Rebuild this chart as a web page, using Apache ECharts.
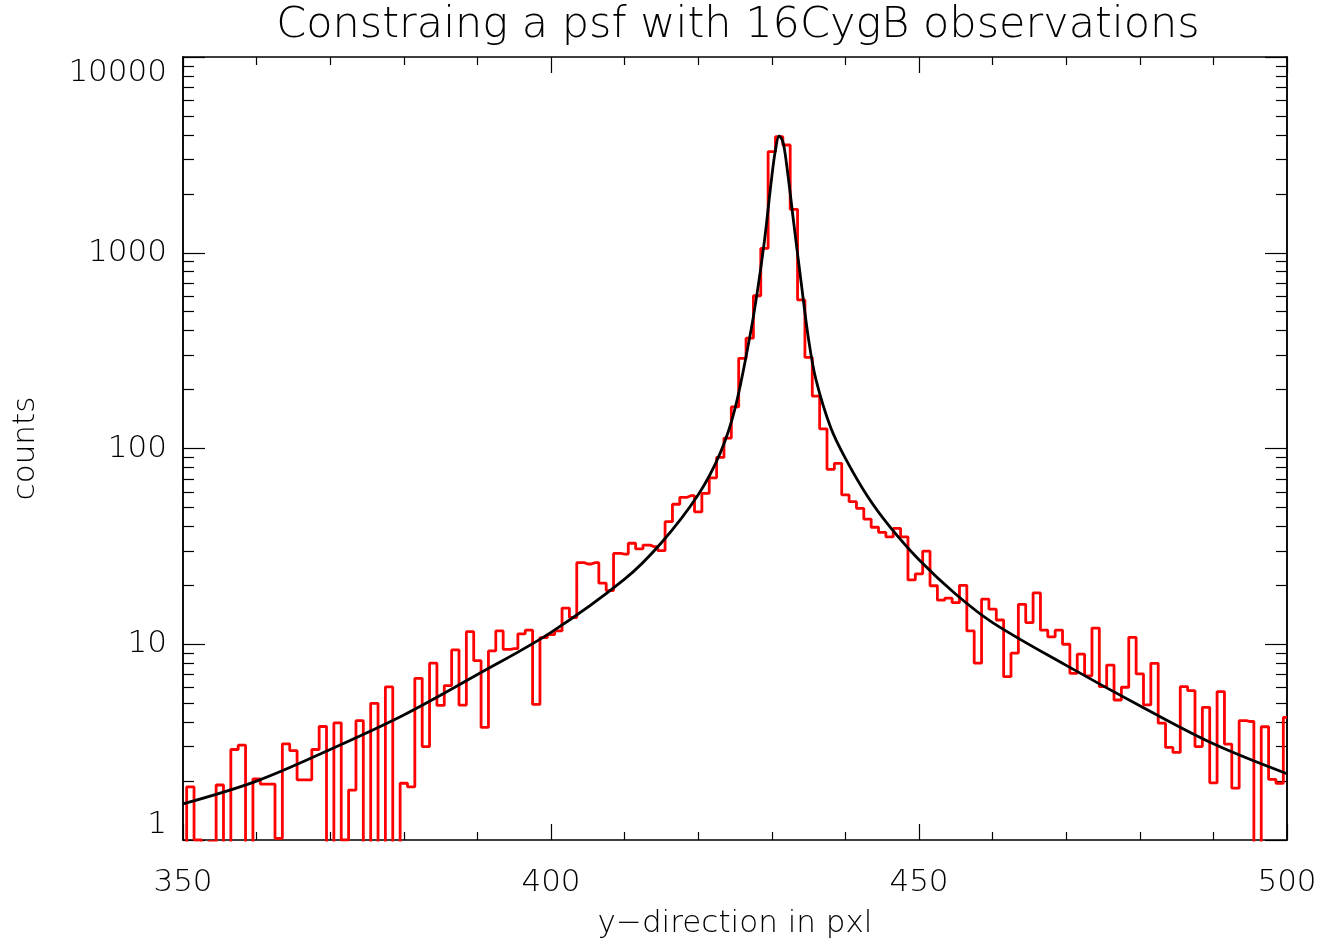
<!DOCTYPE html>
<html><head><meta charset="utf-8">
<script src="https://cdn.jsdelivr.net/npm/echarts@6/dist/echarts.min.js"></script>
<style>html,body{margin:0;padding:0;background:#fff}#c{width:1342px;height:947px}</style>
</head><body><div id="c"></div>
<script>
const titleText = 'Constraing a psf with 16CygB observations';
const xName = 'y\u2212direction in pxl';
const yName = 'counts';
const xStart = 350;
// counts per pixel bin, x = 350 .. 500 (0 = empty bin, below the log axis)
const counts = [
  0, 1.87, 1.0, 0, 0.98, 1.91, 0, 2.9, 3.05, 0,
  2.05, 1.93, 1.93, 1.02, 3.1, 2.86, 2.03, 2.03, 2.9, 3.8,
  0, 3.97, 1.0, 1.8, 4.07, 0, 4.99, 0, 6.05, 0,
  1.95, 1.87, 6.7, 3.0, 8.0, 4.87, 6.15, 9.35, 4.89, 11.6,
  8.24, 3.76, 9.24, 11.7, 9.42, 9.5, 11.3, 11.8, 4.93, 10.8,
  11.2, 11.7, 15.3, 13.7, 26.1, 25.7, 26.1, 20.5, 18.8, 29.1,
  28.9, 32.8, 30.7, 32.1, 31.5, 30.1, 42.3, 51.9, 56.3, 57.4,
  47.5, 59, 70.8, 90, 113, 163, 289, 366, 603, 1054,
  3284, 3917, 3551, 1667, 574, 292, 185, 126, 78.3, 84,
  57.9, 53.5, 49.5, 43.6, 39.6, 37.3, 35.4, 39.1, 35.4, 21.3,
  22.9, 29.9, 19.9, 16.8, 17.2, 16.3, 20.0, 11.7, 8.0, 17.0,
  15.1, 13.3, 6.83, 9.0, 16.0, 12.9, 18.3, 11.8, 10.9, 11.8,
  10.0, 7.1, 8.9, 6.9, 12.1, 6.07, 7.83, 5.19, 6.03, 10.85,
  7.05, 4.9, 7.99, 3.95, 2.97, 2.8, 6.07, 5.79, 3.0, 4.76,
  1.96, 5.73, 3.09, 1.84, 4.07, 4.03, 0, 3.79, 2.04, 1.95,
  4.23
];
// fitted psf model
const modelX = [350, 360, 370, 380, 390, 400, 410, 415, 420, 423, 425, 427, 428, 429, 430, 430.5, 431, 431.5, 432, 433, 434, 435, 436, 438, 440, 443, 446, 450, 455, 460, 470, 480, 490, 500];
const modelY = [1.53, 2.0, 2.9, 4.35, 7.0, 11.5, 21.5, 33, 58, 95, 160, 370, 620, 1150, 2450, 3350, 3950, 3700, 2850, 1400, 700, 360, 225, 128, 89, 57, 40, 27, 18, 12.9, 7.8, 4.85, 3.1, 2.18];
const xMin = 350, xMax = 500, xStep = 50;
const yMajorTicks = [1, 10, 100, 1000, 10000];
const yMinorTicks = [2,3,4,5,6,7,8,9,20,30,40,50,60,70,80,90,200,300,400,500,600,700,800,900,2000,3000,4000,5000,6000,7000,8000,9000];

const FONT = "'DejaVu Sans', sans-serif";
const histData = counts.map((v, i) => [xStart + i, v > 0 ? v : 0.2]);
const modelData = modelX.map((x, i) => [x, modelY[i]]);

const axisLine = { show: true, lineStyle: { color: '#000', width: 1.5 } };
function yAxisDef(pos, ticks, len, labels) {
  return {
    type: 'log', logBase: 10, min: 1, max: 10000, position: pos,
    axisLine: axisLine,
    splitLine: { show: false },
    axisTick: { show: true, inside: true, length: len, customValues: ticks, lineStyle: { color: '#000', width: 1.2 } },
    axisLabel: labels ? {
      show: true, customValues: yMajorTicks, fontFamily: FONT, fontWeight: 200, fontSize: 31, color: '#000', margin: 16,
      formatter: v => String(Math.round(v)),
      verticalAlignMaxLabel: 'top', verticalAlignMinLabel: 'bottom'
    } : { show: false },
    name: labels ? yName : '', nameLocation: 'middle', nameGap: 142,
    nameTextStyle: { fontFamily: FONT, fontWeight: 200, fontSize: 31, color: '#000' }
  };
}
function xAxisDef(pos, labels) {
  return {
    type: 'value', min: xMin, max: xMax, interval: xStep, position: pos,
    axisLine: axisLine,
    splitLine: { show: false },
    axisTick: { show: true, inside: true, length: 16, lineStyle: { color: '#000', width: 1.2 } },
    minorTick: { show: true, splitNumber: 5, length: 8, lineStyle: { color: '#000', width: 1.2 } },
    axisLabel: labels ? { show: true, fontFamily: FONT, fontWeight: 200, fontSize: 31, color: '#000', margin: 27 } : { show: false },
    name: labels ? xName : '', nameLocation: 'middle', nameGap: 68,
    nameTextStyle: { fontFamily: FONT, fontWeight: 200, fontSize: 31, color: '#000' }
  };
}

const chart = echarts.init(document.getElementById('c'), null, { renderer: 'canvas' });
chart.setOption({
  animation: false,
  backgroundColor: '#fff',
  title: {
    text: titleText, left: 733, textAlign: 'center', top: -1,
    textStyle: { fontFamily: FONT, fontWeight: 200, fontSize: 43, color: '#000' }
  },
  grid: { left: 183, right: 55, top: 57, bottom: 107, containLabel: false },
  xAxis: [xAxisDef('bottom', true), xAxisDef('top', false)],
  yAxis: [
    yAxisDef('left', yMajorTicks, 22, true),
    yAxisDef('left', yMinorTicks, 11, false),
    yAxisDef('right', yMajorTicks, 22, false),
    yAxisDef('right', yMinorTicks, 11, false)
  ],
  series: [
    {
      type: 'line', name: 'data', data: histData, step: 'middle', showSymbol: false, symbol: 'none',
      clip: true, xAxisIndex: 0, yAxisIndex: 0,
      lineStyle: { color: '#ff0000', width: 2.8 }, z: 2
    },
    {
      type: 'line', name: 'model', data: modelData, smooth: 0.35, showSymbol: false, symbol: 'none',
      clip: true, xAxisIndex: 0, yAxisIndex: 0,
      lineStyle: { color: '#000', width: 2.8 }, z: 3
    }
  ]
});
</script>
</body></html>
